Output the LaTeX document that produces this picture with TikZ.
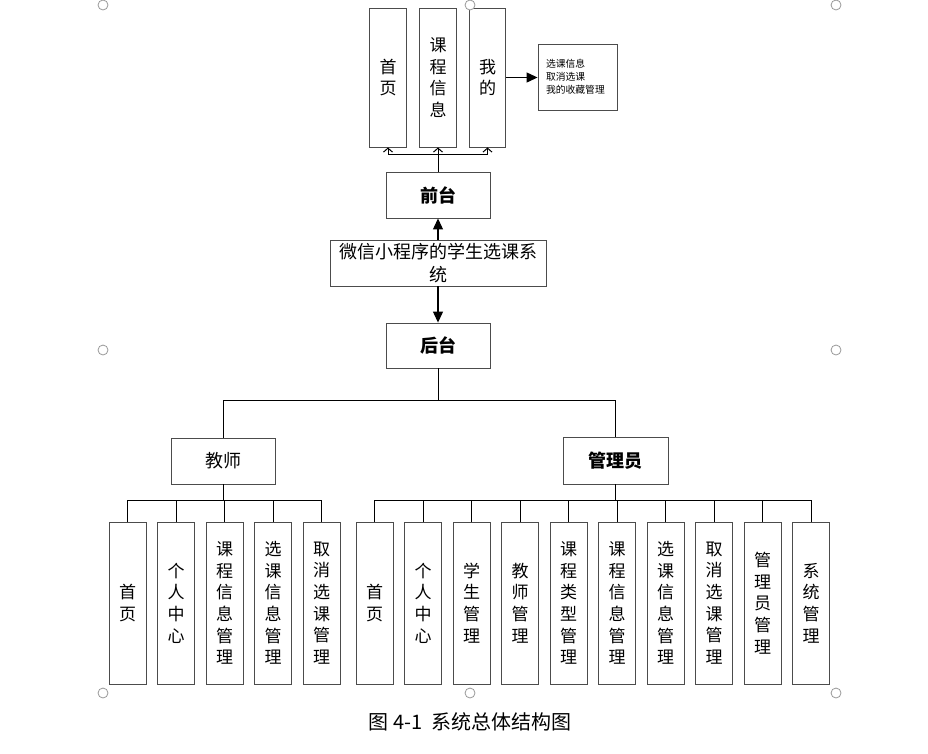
\documentclass[tikz,border=0pt]{standalone}
\usepackage{fontspec}
\setmainfont{Noto Sans CJK SC}
\usetikzlibrary{arrows.meta}
\begin{document}
\begin{tikzpicture}[x=1pt,y=-1pt,
 bx/.style={draw=black!70,line width=0.9pt,inner sep=0pt,align=center,fill=white},
 vbox/.style={bx,minimum width=37pt,minimum height=162pt,font=\fontsize{17}{21.7}\selectfont},
 tbox/.style={bx,minimum width=36.5pt,minimum height=139pt,font=\fontsize{17}{21.5}\selectfont},
 hbox/.style={bx,minimum width=104pt,minimum height=46pt,font=\fontsize{18}{22}\selectfont},
 ln/.style={line width=1pt,black},
 fa/.style={ln,line width=1.2pt,-{Triangle[length=11pt,width=10pt]}},
 ba/.style={ln,-{Straight Barb[length=4pt,width=9pt]}},
 handle/.style={circle,draw=gray!80,fill=white,line width=0.8pt,minimum size=10pt,inner sep=0pt}]

\useasboundingbox (0,0) rectangle (928,753);

% top level pages
\node[tbox] (p1) at (388,77.5) {首\\页};
\node[tbox] (p2) at (438,77.5) {课\\程\\信\\息};
\node[tbox] (p3) at (487.5,77.5) {我\\的};
\node[bx,minimum width=79pt,minimum height=66pt,text width=63pt,inner xsep=8pt,align=left,
      font=\fontsize{9.8}{13}\selectfont] (side) at (577.5,77) {选课信息\\取消选课\\我的收藏管理};

\node[hbox,font=\fontsize{18}{22}\selectfont\bfseries] (qt) at (438,195) {前台};
\node[bx,minimum width=216pt,minimum height=46pt,font=\fontsize{18}{23}\selectfont] (main) at (438,263) {微信小程序的学生选课系\\统};
\node[hbox,minimum height=45pt,font=\fontsize{18}{22}\selectfont\bfseries] (ht) at (438,345.5) {后台};

\node[hbox] (js) at (223,461) {教师};
\node[hbox,minimum width=105pt,minimum height=47pt,font=\fontsize{18}{22}\selectfont\bfseries] (gly) at (615.5,460.5) {管理员};

% teacher children
\node[vbox] (t1) at (127.5,603) {首\\页};
\node[vbox] (t2) at (176,603) {个\\人\\中\\心};
\node[vbox] (t3) at (224.5,603) {课\\程\\信\\息\\管\\理};
\node[vbox] (t4) at (273,603) {选\\课\\信\\息\\管\\理};
\node[vbox] (t5) at (321.5,603) {取\\消\\选\\课\\管\\理};

% admin children
\node[vbox] (a1) at (374.5,603) {首\\页};
\node[vbox] (a2) at (423,603) {个\\人\\中\\心};
\node[vbox] (a3) at (471.5,603) {学\\生\\管\\理};
\node[vbox] (a4) at (520,603) {教\\师\\管\\理};
\node[vbox] (a5) at (568.5,603) {课\\程\\类\\型\\管\\理};
\node[vbox] (a6) at (617,603) {课\\程\\信\\息\\管\\理};
\node[vbox] (a7) at (665.5,603) {选\\课\\信\\息\\管\\理};
\node[vbox] (a8) at (714,603) {取\\消\\选\\课\\管\\理};
\node[vbox] (a9) at (762.5,603) {管\\理\\员\\管\\理};
\node[vbox] (a10) at (811,603) {系\\统\\管\\理};

% connectors top
\draw[ln] (qt.north) -- ++(0,-17) coordinate (qb);
\draw[ba] (qb) -| (p1.south);
\draw[ba] (qb) -- (p2.south);
\draw[ba] (qb) -| (p3.south);
\draw[fa] (p3.east) -- (p3.east -| side.west);
\draw[fa] (main.north) -- (qt.south);
\draw[fa] (main.south) -- (ht.north);

% backend
\draw[ln] (ht.south) -- ++(0,32) coordinate (hb);
\draw[ln] (js.north) |- (hb) -| (gly.north);

\draw[ln] (js.south) -- ++(0,16.5) coordinate (jb);
\foreach \i in {1,...,5} \draw[ln] (t\i.north) |- (jb);
\draw[ln,line width=1.6pt] (gly.south) -- ++(0,16.5) coordinate (gb);
\foreach \i in {1,...,10} \draw[ln] (a\i.north) |- (gb);

% caption
\node[font=\fontsize{20}{23}\selectfont] (cap) at (470,722) {图 4-1\ \ 系统总体结构图};

% selection handles
\node[handle] (h1) at (103,5) {};
\node[handle] (h2) at (470,5) {};
\node[handle] (h3) at (836,5) {};
\node[handle] (h4) at (103,350) {};
\node[handle] (h5) at (836,350) {};
\node[handle] (h6) at (103,693) {};
\node[handle] (h7) at (470,693) {};
\node[handle] (h8) at (836,693) {};
\end{tikzpicture}
\end{document}
